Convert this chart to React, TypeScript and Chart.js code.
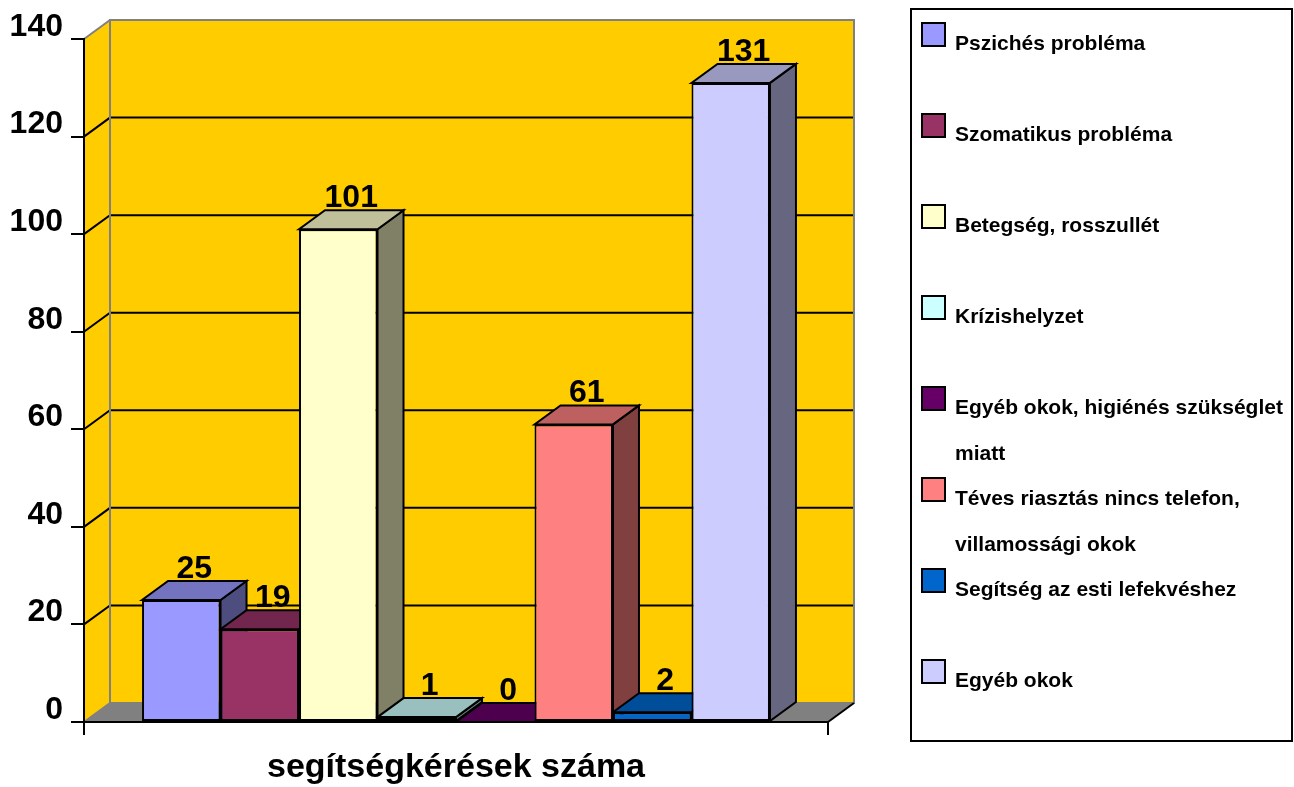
import React, { useEffect, useRef } from 'react';
import { Chart, registerables } from 'chart.js';

Chart.register(...registerables);

// ---- data ----
const categories = ['segítségkérések száma'];
const seriesNames = [
  'Pszichés probléma',
  'Szomatikus probléma',
  'Betegség, rosszullét',
  'Krízishelyzet',
  'Egyéb okok, higiénés szükséglet miatt',
  'Téves riasztás nincs telefon, villamossági okok',
  'Segítség az esti lefekvéshez',
  'Egyéb okok',
];
const seriesValues = [25, 19, 101, 1, 0, 61, 2, 131];
const seriesColors = ['#9999FF', '#993366', '#FFFFCC', '#CCFFFF', '#660066', '#FF8080', '#0066CC', '#CCCCFF'];
const yTicks = [0, 20, 40, 60, 80, 100, 120, 140];

// ---- style ----
const FONT = '"Liberation Sans", Arial, Helvetica, sans-serif';
const DX = 26;
const DY = 19;
const WALL = '#FFCC00';
const FLOOR = '#808080';
const EDGE = '#808080';

function shade(hex: string, f: number): string {
  const n = parseInt(hex.slice(1), 16);
  const r = Math.round(((n >> 16) & 255) * f);
  const g = Math.round(((n >> 8) & 255) * f);
  const b = Math.round((n & 255) * f);
  return `rgb(${r},${g},${b})`;
}

function poly(ctx: CanvasRenderingContext2D, pts: number[][]) {
  ctx.beginPath();
  ctx.moveTo(pts[0][0], pts[0][1]);
  for (let i = 1; i < pts.length; i++) ctx.lineTo(pts[i][0], pts[i][1]);
  ctx.closePath();
}

function line(ctx: CanvasRenderingContext2D, x1: number, y1: number, x2: number, y2: number) {
  ctx.beginPath();
  ctx.moveTo(x1, y1);
  ctx.lineTo(x2, y2);
  ctx.stroke();
}

function wrap(ctx: CanvasRenderingContext2D, text: string, maxW: number): string[] {
  const words = text.split(' ');
  const out: string[] = [];
  let cur = '';
  for (const w of words) {
    const t = cur ? cur + ' ' + w : w;
    if (ctx.measureText(t).width > maxW && cur) {
      out.push(cur);
      cur = w;
    } else cur = t;
  }
  if (cur) out.push(cur);
  return out;
}

const threeD = {
  id: 'threeD',
  beforeDraw(chart: any) {
    const { ctx, chartArea: ca, scales } = chart;
    const y = scales.y;
    const L = ca.left;
    const R = ca.right;
    const B = y.getPixelForValue(yTicks[0]);
    const T = y.getPixelForValue(yTicks[yTicks.length - 1]);
    ctx.save();
    // back wall
    ctx.fillStyle = WALL;
    ctx.fillRect(L + DX, T - DY, R - L, B - T);
    // side wall
    poly(ctx, [[L, T], [L + DX, T - DY], [L + DX, B - DY], [L, B]]);
    ctx.fill();
    // floor
    ctx.fillStyle = FLOOR;
    poly(ctx, [[L, B], [L + DX, B - DY], [R + DX, B - DY], [R, B]]);
    ctx.fill();
    // gridlines
    ctx.strokeStyle = '#000';
    ctx.lineWidth = 2;
    for (let i = 1; i < yTicks.length - 1; i++) {
      const yy = y.getPixelForValue(yTicks[i]);
      ctx.beginPath();
      ctx.moveTo(L, yy);
      ctx.lineTo(L + DX, yy - DY);
      ctx.lineTo(R + DX, yy - DY);
      ctx.stroke();
    }
    // wall edges
    ctx.strokeStyle = EDGE;
    ctx.strokeRect(L + DX, T - DY, R - L, B - T);
    line(ctx, L, T, L + DX, T - DY);
    line(ctx, L, B, L + DX, B - DY);
    ctx.strokeStyle = '#000';
    line(ctx, R, B, R + DX, B - DY);
    ctx.restore();
  },
  beforeDatasetsDraw(chart: any) {
    const { ctx } = chart;
    ctx.save();
    ctx.lineWidth = 2;
    ctx.lineJoin = 'miter';
    ctx.strokeStyle = '#000';
    for (let i = 0; i < seriesValues.length; i++) {
      const meta = chart.getDatasetMeta(i);
      const el = meta.data[0];
      if (!el) continue;
      const p = el.getProps(['x', 'y', 'base', 'width'], true);
      const xl = p.x - p.width / 2;
      const xr = p.x + p.width / 2;
      const yt = p.y;
      const yb = p.base;
      const col = seriesColors[i];
      // side
      ctx.fillStyle = shade(col, 0.5);
      poly(ctx, [[xr, yt], [xr + DX, yt - DY], [xr + DX, yb - DY], [xr, yb]]);
      ctx.fill();
      ctx.stroke();
      // top
      ctx.fillStyle = shade(col, 0.75);
      poly(ctx, [[xl, yt], [xr, yt], [xr + DX, yt - DY], [xl + DX, yt - DY]]);
      ctx.fill();
      ctx.stroke();
    }
    ctx.restore();
  },
  afterDatasetsDraw(chart: any) {
    const { ctx } = chart;
    ctx.save();
    ctx.fillStyle = '#000';
    ctx.font = `bold 32px ${FONT}`;
    ctx.textAlign = 'center';
    ctx.textBaseline = 'alphabetic';
    for (let i = 0; i < seriesValues.length; i++) {
      const el = chart.getDatasetMeta(i).data[0];
      if (!el) continue;
      const p = el.getProps(['x', 'y'], true);
      ctx.fillText(String(seriesValues[i]), p.x + DX / 2, p.y - DY - 3);
    }
    ctx.restore();
  },
  afterDraw(chart: any) {
    const { ctx } = chart;
    ctx.save();
    // legend frame
    ctx.strokeStyle = '#000';
    ctx.lineWidth = 2;
    ctx.strokeRect(911, 9, 381, 732);
    ctx.font = `bold 21px ${FONT}`;
    ctx.textAlign = 'left';
    ctx.textBaseline = 'alphabetic';
    const lineH = 45.5;
    const firstBase = 50;
    for (let i = 0; i < seriesNames.length; i++) {
      const b = firstBase + lineH * 2 * i;
      ctx.fillStyle = seriesColors[i];
      ctx.fillRect(921, b - 28, 25, 25);
      ctx.strokeStyle = '#000';
      ctx.strokeRect(922, b - 27, 23, 23);
      ctx.fillStyle = '#000';
      const lines = wrap(ctx, seriesNames[i], 338);
      lines.forEach((t, k) => ctx.fillText(t, 955, b + k * lineH));
    }
    ctx.restore();
  },
};

export default function App() {
  const ref = useRef<HTMLCanvasElement | null>(null);
  useEffect(() => {
    if (!ref.current) return;
    const chart = new Chart(ref.current, {
      type: 'bar',
      data: {
        labels: categories,
        datasets: seriesNames.map((name, i) => ({
          label: name,
          data: [seriesValues[i]],
          backgroundColor: seriesColors[i],
          borderColor: '#000',
          borderWidth: 2,
          borderSkipped: false,
          categoryPercentage: 0.844,
          barPercentage: 1,
        })),
      },
      options: {
        responsive: false,
        animation: false,
        events: [],
        layout: { padding: { top: 39, right: 466, bottom: 0, left: 0 } },
        plugins: {
          legend: { display: false },
          tooltip: { enabled: false },
          title: { display: false },
        },
        scales: {
          x: {
            offset: true,
            afterFit: (s: any) => { s.height = 65; },
            grid: { display: true, offset: true, drawOnChartArea: false, drawTicks: true, tickLength: 13, color: '#000', lineWidth: 2 },
            border: { display: true, color: '#000', width: 2 },
            ticks: { color: '#000', padding: 12, font: { family: FONT, size: 34, weight: 'bold' } },
          },
          y: {
            min: yTicks[0],
            max: yTicks[yTicks.length - 1],
            afterFit: (s: any) => { s.width = 84; },
            afterBuildTicks: (s: any) => { s.ticks = yTicks.map((v) => ({ value: v })); },
            grid: { display: true, drawOnChartArea: false, drawTicks: true, tickLength: 13, color: '#000', lineWidth: 2 },
            border: { display: true, color: '#000', width: 2 },
            ticks: { color: '#000', padding: 8, labelOffset: -12, font: { family: FONT, size: 32, weight: 'bold' } },
          },
        },
      },
      plugins: [threeD],
    } as any);
    return () => chart.destroy();
  }, []);
  return (
    <div style={{ position: 'fixed', left: 0, top: 0, width: 1294, height: 787, background: '#fff' }}>
      <canvas ref={ref} width={1294} height={787} style={{ display: 'block' }} />
    </div>
  );
}
